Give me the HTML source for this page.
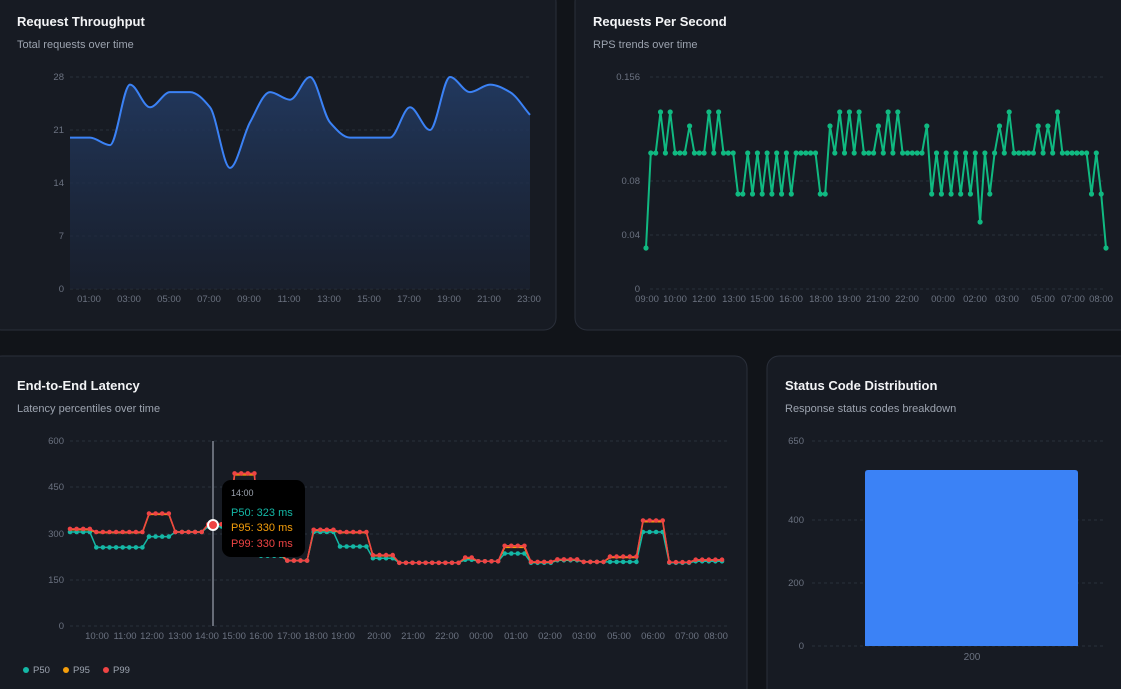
<!DOCTYPE html>
<html><head><meta charset="utf-8">
<style>
html,body{margin:0;padding:0;background:#111419;width:1121px;height:689px;overflow:hidden;font-family:"Liberation Sans",sans-serif;}
svg{position:absolute;left:0;top:0}
</style></head>
<body>
<svg id="s" width="1121" height="689" viewBox="0 0 1121 689" xmlns="http://www.w3.org/2000/svg">
<defs>
<linearGradient id="g1" x1="0" y1="0" x2="0" y2="1">
<stop offset="0" stop-color="#223a62" stop-opacity="0.95"/>
<stop offset="1" stop-color="#1a2233" stop-opacity="0.6"/>
</linearGradient>
</defs>
<rect x="-10" y="-10" width="566" height="340" rx="12" fill="#171b23" stroke="#2a2f3a"/>
<rect x="575" y="-10" width="570" height="340" rx="12" fill="#171b23" stroke="#2a2f3a"/>
<rect x="-10" y="356" width="757" height="350" rx="12" fill="#171b23" stroke="#2a2f3a"/>
<rect x="767" y="356" width="370" height="350" rx="12" fill="#171b23" stroke="#2a2f3a"/>
<g font-weight="bold" font-size="13" fill="#f3f4f6">
<text x="17" y="26">Request Throughput</text>
<text x="593" y="26">Requests Per Second</text>
<text x="17" y="390">End-to-End Latency</text>
<text x="785" y="390">Status Code Distribution</text>
</g>
<g font-size="11" fill="#9ca3af">
<text x="17" y="48">Total requests over time</text>
<text x="593" y="48">RPS trends over time</text>
<text x="17" y="412">Latency percentiles over time</text>
<text x="785" y="412">Response status codes breakdown</text>
</g>
<g id="dyn"></g>
</svg>
<script>
var out="";
function T(x,y,t,a,c,fs){out+='<text x="'+x+'" y="'+y+'" text-anchor="'+(a||"middle")+'" fill="'+(c||"#6b7280")+'" font-size="'+(fs||9.5)+'">'+t+'</text>';}
function G(x1,x2,y){out+='<line x1="'+x1+'" x2="'+x2+'" y1="'+y+'" y2="'+y+'" stroke="#2a303b" stroke-dasharray="3 3"/>';}
// chart1 (monotone cubic)
[[0,289],[7,236],[14,183],[21,130],[28,77]].forEach(function(v){G(70,530,v[1]);T(64,v[1]+3,v[0],"end");});
var d1=[20,20,19,27,24,26,26,24,16,22,26,25,28,22,20,20,20,24,21,28,26,27,26,23];
var P=d1.map(function(v,i){return [70+i*20,289-v*212/28];});
var n1=P.length,dx=20,sl=[],m=[];
for(var i=0;i<n1-1;i++)sl.push((P[i+1][1]-P[i][1])/dx);
for(var i=0;i<n1;i++){
 if(i==0)m.push(sl[0]);else if(i==n1-1)m.push(sl[n1-2]);
 else{var a=sl[i-1],b=sl[i];m.push(a*b<=0?0:2/(1/a+1/b));}
}
var path="M"+P[0][0]+","+P[0][1].toFixed(1);
for(var i=0;i<n1-1;i++){var x0=P[i][0],y0=P[i][1],x1=P[i+1][0],y1=P[i+1][1];
path+=" C"+(x0+dx/3)+","+(y0+m[i]*dx/3).toFixed(1)+" "+(x1-dx/3)+","+(y1-m[i+1]*dx/3).toFixed(1)+" "+x1+","+y1.toFixed(1);}
out+='<path d="'+path+' L530,289 L70,289Z" fill="url(#g1)"/><path d="'+path+'" fill="none" stroke="#3b82f6" stroke-width="2"/>';
for(var h=1;h<24;h+=2)T(70+h*20-1,302,(h<10?"0":"")+h+":00");
// chart2
[[0,289],[0.04,235],[0.08,181],[0.156,77]].forEach(function(v){G(650,1106,v[1]);T(640,v[1]+3,v[0],"end");});
var L={a:248,b:194,c:153,d:126,e:112,f:222};
var s2="accececccd"+"cccececccb"+"bcbcbcbcbc"+"bcccccbbdc"+"ecececccdc"+"ececccccdb"+"cbcbcbcbcf"+"cbcdcecccc"+"cdcdcecccc"+"ccbcba";
var n=s2.length,pts=[];
for(var i=0;i<n;i++)pts.push([646+i*460/(n-1),L[s2[i]]]);
out+='<polyline points="'+pts.map(function(p){return p[0].toFixed(1)+","+p[1]}).join(" ")+'" fill="none" stroke="#10b981" stroke-width="2"/>';
pts.forEach(function(p){out+='<circle cx="'+p[0].toFixed(1)+'" cy="'+p[1]+'" r="2.6" fill="#10b981"/>';});
[["09:00",647],["10:00",675],["12:00",704],["13:00",734],["15:00",762],["16:00",791],["18:00",821],["19:00",849],["21:00",878],["22:00",907],["00:00",943],["02:00",975],["03:00",1007],["05:00",1043],["07:00",1073],["08:00",1101]].forEach(function(l){T(l[1],302,l[0]);});
// chart3
[[0,626],[150,580],[300,534],[450,487],[600,441]].forEach(function(v){G(70,728,v[1]);T(64,v[1]+3,v[0],"end");});
var seg=[[70,305,312,315],[95,255,303,305],[149,290,362,365],[176,305,305,305],[204,323,330,330],[232,320,490,495],[259,228,232,235],[286,212,212,212],[313,305,310,312],[340,258,303,305],[372,220,228,230],[398,205,205,205],[460,215,220,222],[478,210,210,210],[504,235,255,260],[531,205,207,208],[557,213,215,216],[583,208,208,208],[611,208,222,225],[641,305,338,342],[669,205,207,207],[695,210,214,215]];
function Y(v){return 626-v*185/600;}
var ser=[[],[],[]];
for(var i=0;i<100;i++){var x=70+i*652/99,s=seg[0];seg.forEach(function(q){if(x>=q[0]-1)s=q;});for(var k=0;k<3;k++)ser[k].push([x,Y(s[k+1])]);}
var cols=["#14b8a6","#f59e0b","#ef4444"];
for(var k=0;k<3;k++){out+='<polyline points="'+ser[k].map(function(p){return p[0].toFixed(1)+","+p[1].toFixed(1)}).join(" ")+'" fill="none" stroke="'+cols[k]+'" stroke-width="1.5"/>';
if(k!=1)ser[k].forEach(function(p){out+='<circle cx="'+p[0].toFixed(1)+'" cy="'+p[1].toFixed(1)+'" r="2.3" fill="'+cols[k]+'"/>';});}
[["10:00",97],["11:00",125],["12:00",152],["13:00",180],["14:00",207],["15:00",234],["16:00",261],["17:00",289],["18:00",316],["19:00",343],["20:00",379],["21:00",413],["22:00",447],["00:00",481],["01:00",516],["02:00",550],["03:00",584],["05:00",619],["06:00",653],["07:00",687],["08:00",716]].forEach(function(l){T(l[1],639,l[0]);});
out+='<line x1="213" x2="213" y1="441" y2="626" stroke="#9ca3af" stroke-width="1.2"/>';
out+='<circle cx="213" cy="525" r="5" fill="#ef4444" stroke="#fff" stroke-width="2"/>';
out+='<rect x="222" y="480" width="83" height="77" rx="9" fill="#000"/>';
T(231,496,"14:00","start","#9ca3af",9);
T(231,516,"P50: 323 ms","start","#14b8a6",11);
T(231,531,"P95: 330 ms","start","#f59e0b",11);
T(231,547,"P99: 330 ms","start","#ef4444",11);
[["P50",26],["P95",66],["P99",106]].forEach(function(l,i){out+='<circle cx="'+l[1]+'" cy="670" r="3" fill="'+cols[i]+'"/>';T(l[1]+7,673,l[0],"start","#9ca3af",9.5);});
// chart4
[[0,646],[200,583],[400,520],[650,441]].forEach(function(v){G(812,1105,v[1]);T(804,v[1]+3,v[0],"end");});
out+='<path d="M865,646 V473 Q865,470 868,470 H1075 Q1078,470 1078,473 V646Z" fill="#3b82f6"/>';
T(972,660,"200","middle","#6b7280",10);
document.getElementById("dyn").innerHTML=out;
</script>
</body></html>
